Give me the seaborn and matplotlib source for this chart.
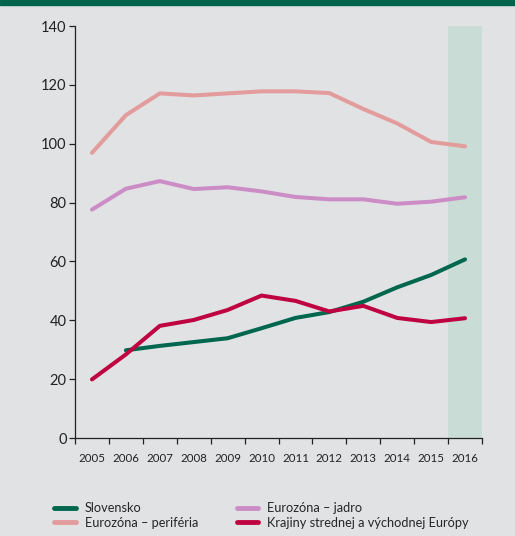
import numpy as np
import pandas as pd
import matplotlib
matplotlib.use("Agg")
import matplotlib.pyplot as plt
from matplotlib.patches import Rectangle
from matplotlib.lines import Line2D
from matplotlib.ticker import FixedLocator
import seaborn as sns

years = ["2005", "2006", "2007", "2008", "2009", "2010",
         "2011", "2012", "2013", "2014", "2015", "2016"]
slovensko = [np.nan, 29.8, 31.3, 32.6, 33.9, 37.3, 40.8, 42.8, 46.3, 51.2, 55.4, 60.7]
periferia = [96.9, 109.7, 117.1, 116.4, 117.1, 117.8, 117.8, 117.2, 111.8, 106.9, 100.6, 99.1]
jadro = [77.6, 84.7, 87.3, 84.6, 85.2, 83.8, 81.9, 81.1, 81.1, 79.6, 80.3, 81.8]
cee = [19.9, 28.4, 38.1, 40.1, 43.5, 48.4, 46.6, 43.0, 44.9, 40.8, 39.4, 40.7]

names = ["Slovensko", "Eurozóna – periféria", "Eurozóna – jadro",
         "Krajiny strednej a východnej Európy"]
colors = ["#00674f", "#e39c9c", "#cc8cc6", "#bf0341"]
forecast_year = "2016"

bg = "#e1e2e4"
sns.set_theme(style="white", rc={"axes.facecolor": bg, "figure.facecolor": bg})
plt.rcParams["font.family"] = ["Lato", "DejaVu Sans"]

df = pd.DataFrame({"rok": years * 4,
                   "x": list(range(len(years))) * 4,
                   "hodnota": slovensko + periferia + jadro + cee,
                   "séria": sum([[n] * len(years) for n in names], [])})

fig = plt.figure(figsize=(5.15, 5.36), dpi=100)
ax = fig.add_axes([75 / 515, 1 - 438 / 536, (482 - 75) / 515, (438 - 26) / 536])

# shaded forecast column
fi = years.index(forecast_year)
ax.axvspan(fi - 0.5, fi + 0.5, color="#c9ddd6", zorder=0, lw=0)

sns.lineplot(data=df, x="x", y="hodnota", hue="séria", hue_order=names,
             palette=colors, linewidth=2.9, ax=ax, legend=False, zorder=3)

ax.set_xlim(-0.5, len(years) - 0.5)
ax.set_ylim(0, 140)
ax.set_yticks(range(0, 141, 20))
ax.set_xticks(range(len(years)))
ax.set_xticklabels(years, fontsize=8.3, color="#222222")
ax.xaxis.set_minor_locator(FixedLocator(np.arange(-0.5, len(years), 1.0)))
ax.tick_params(axis="x", which="major", length=0, pad=11)
ax.tick_params(axis="x", which="minor", length=4, width=0.9, color="#222222",
               direction="out", bottom=True)
ax.tick_params(axis="y", length=4, width=0.9, color="#222222", direction="out",
               left=True, labelsize=10.5, labelcolor="#222222", pad=2)
ax.set_xlabel("")
ax.set_ylabel("")
for s in ["top", "right"]:
    ax.spines[s].set_visible(False)
for s in ["left", "bottom"]:
    ax.spines[s].set_color("#222222")
    ax.spines[s].set_linewidth(0.9)

# header band
fig.patches.append(Rectangle((0, 1 - 5 / 536), 1, 5 / 536, transform=fig.transFigure,
                             color="#00644c", zorder=10))

handles = [Line2D([], [], color=c, lw=3.5) for c in colors]
fig.legend(handles, names, ncol=2, loc="upper left",
           bbox_to_anchor=(48 / 515, 1 - 496 / 536), frameon=False,
           fontsize=9.2, handlelength=1.7, handletextpad=0.7,
           columnspacing=3.0, labelspacing=0.2, borderpad=0)

fig.savefig("out.png", dpi=100, facecolor=bg)
